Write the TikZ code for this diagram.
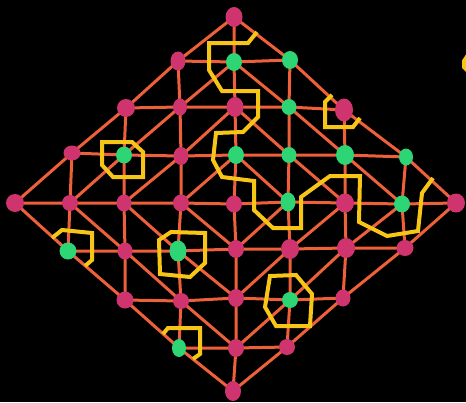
\documentclass[tikz,border=0pt]{standalone}
\usetikzlibrary{shapes.geometric}
\definecolor{edgeor}{RGB}{238,96,58}
\definecolor{mag}{RGB}{207,52,110}
\definecolor{grn}{RGB}{46,213,117}
\definecolor{yel}{RGB}{247,197,22}
\pgfdeclarelayer{bg}
\pgfsetlayers{bg,main}
\begin{document}
\begin{tikzpicture}[x=1pt,y=-1pt,
  vtx/.style={ellipse, inner sep=0pt, minimum width=16pt, minimum height=18pt},
  mg/.style={vtx, fill=mag},
  gn/.style={vtx, fill=grn},
  sz/.style 2 args={minimum width=#1pt, minimum height=#2pt},
  edgeln/.style={draw=edgeor, line width=3pt},
  cyc/.style={draw=yel, line width=4pt}]
\useasboundingbox (0,0) rectangle (466,402);
% nodes
\node[mg,sz={17}{20}] (n04) at (234,17) {};
\node[mg,sz={15}{19}] (n13) at (178,61) {};
\node[gn,sz={16}{18}] (n14) at (234,62) {};
\node[gn,sz={16}{18}] (n15) at (290,60) {};
\node[mg,sz={18}{18}] (n22) at (126,108) {};
\node[mg,sz={14}{17}] (n23) at (180,107) {};
\node[mg,sz={17}{20}] (n24) at (235,107) {};
\node[gn,sz={15}{16}] (n25) at (289,107) {};
\node[mg,sz={18}{23}] (n26) at (344,110) {};
\node[mg,sz={17}{15}] (n31) at (72,153) {};
\node[gn,sz={16}{17}] (n32) at (124,155) {};
\node[mg,sz={15}{18}] (n33) at (181,156) {};
\node[gn,sz={16}{18}] (n34) at (236,155) {};
\node[gn,sz={15}{16}] (n35) at (289,155) {};
\node[gn,sz={18}{20}] (n36) at (345,155) {};
\node[gn,sz={14}{17}] (n37) at (406,157) {};
\node[mg,sz={18}{18}] (n40) at (15,203) {};
\node[mg,sz={16}{16}] (n41) at (70,203) {};
\node[mg,sz={15}{17}] (n42) at (124,203) {};
\node[mg,sz={16}{17}] (n43) at (181,203) {};
\node[mg,sz={16}{17}] (n44) at (234,204) {};
\node[gn,sz={15}{19}] (n45) at (288,202) {};
\node[mg,sz={18}{19}] (n46) at (345,203) {};
\node[gn,sz={16}{17}] (n47) at (402,204) {};
\node[mg,sz={18}{19}] (n48) at (456,203) {};
\node[gn,sz={17}{17}] (n51) at (68,251) {};
\node[mg,sz={15}{17}] (n52) at (125,251) {};
\node[gn,sz={17}{21}] (n53) at (178,251) {};
\node[mg,sz={16}{18}] (n54) at (236,249) {};
\node[mg,sz={18}{20}] (n55) at (290,249) {};
\node[mg,sz={18}{20}] (n56) at (346,248) {};
\node[mg,sz={17}{16}] (n57) at (405,248) {};
\node[mg,sz={17}{17}] (n62) at (125,300) {};
\node[mg,sz={16}{16}] (n63) at (181,301) {};
\node[mg,sz={16}{18}] (n64) at (236,298) {};
\node[gn,sz={16}{16}] (n65) at (290,300) {};
\node[mg,sz={15}{17}] (n66) at (343,298) {};
\node[gn,sz={14}{18}] (n73) at (179,348) {};
\node[mg,sz={16}{18}] (n74) at (236,348) {};
\node[mg,sz={16}{16}] (n75) at (287,347) {};
\node[mg,sz={16}{20}] (n84) at (233,391) {};
\begin{pgfonlayer}{bg}
\fill[black] (0,0) rectangle (466,402);
% rows
\draw[edgeln] (n13.center) -- (n14.center) -- (n15.center);
\draw[edgeln] (n22.center) -- (n23.center) -- (n24.center) -- (n25.center) -- (n26.center);
\draw[edgeln] (n31.center) -- (n32.center) -- (n33.center) -- (n34.center) -- (n35.center) -- (n36.center) -- (n37.center);
\draw[edgeln] (n40.center) -- (n41.center) -- (n42.center) -- (n43.center) -- (n44.center) -- (n45.center) -- (n46.center) -- (n47.center) -- (n48.center);
\draw[edgeln] (n51.center) -- (n52.center) -- (n53.center) -- (n54.center) -- (n55.center) -- (n56.center) -- (n57.center);
\draw[edgeln] (n62.center) -- (n63.center) -- (n64.center) -- (n65.center) -- (n66.center);
\draw[edgeln] (n73.center) -- (n74.center) -- (n75.center);
% columns
\draw[edgeln] (n31.center) -- (n41.center) -- (n51.center);
\draw[edgeln] (n22.center) -- (n32.center) -- (n42.center) -- (n52.center) -- (n62.center);
\draw[edgeln] (n13.center) -- (n23.center) -- (n33.center) -- (n43.center) -- (n53.center) -- (n63.center) -- (n73.center);
\draw[edgeln] (n04.center) -- (n14.center) -- (n24.center) -- (n34.center) -- (n44.center) -- (n54.center) -- (n64.center) -- (n74.center) -- (n84.center);
\draw[edgeln] (n15.center) -- (n25.center) -- (n35.center) -- (n45.center) -- (n55.center) -- (n65.center) -- (n75.center);
\draw[edgeln] (n26.center) -- (n36.center) -- (n46.center) -- (n56.center) -- (n66.center);
\draw[edgeln] (n37.center) -- (n47.center) -- (n57.center);
% diamonds
\draw[edgeln] (n04.center) -- (n15.center) -- (n26.center) -- (n37.center) -- (n48.center) -- (n57.center) -- (n66.center) -- (n75.center) -- (n84.center) -- (n73.center) -- (n62.center) -- (n51.center) -- (n40.center) -- (n31.center) -- (n22.center) -- (n13.center) -- cycle;
\draw[edgeln] (n14.center) -- (n25.center) -- (n36.center) -- (n47.center) -- (n56.center) -- (n65.center) -- (n74.center) -- (n63.center) -- (n52.center) -- (n41.center) -- (n32.center) -- (n23.center) -- cycle;
\draw[edgeln] (n24.center) -- (n35.center) -- (n46.center) -- (n55.center) -- (n64.center) -- (n53.center) -- (n42.center) -- (n33.center) -- cycle;
\draw[edgeln] (n34.center) -- (n45.center) -- (n54.center) -- (n43.center) -- cycle;
% yellow cycles
\draw[cyc] (257,32) -- (248,43) -- (209,43) -- (209,70) -- (222,91) -- (258,91) -- (258,117) -- (243,132) -- (216,133) -- (213,160) -- (222,177) -- (254,181) -- (254,210) -- (273,228) -- (301,228) -- (301,197) -- (330,176) -- (360,176) -- (359,222) -- (387,236) -- (418,231) -- (422,193) -- (433,178);
\draw[cyc] (332,95) -- (325,102) -- (325,127) -- (353,127) -- (360,118);
\draw[cyc] (102,142) -- (132,142) -- (143,152) -- (143,177) -- (113,177) -- (102,165) -- cycle;
\draw[cyc] (52,238) -- (62,230) -- (92,233) -- (92,260) -- (85,266);
\draw[cyc] (159,240) -- (171,232) -- (205,233) -- (205,263) -- (190,277) -- (160,274) -- cycle;
\draw[cyc] (270,276) -- (296,275) -- (312,294) -- (310,326) -- (276,326) -- (265,307) -- cycle;
\draw[cyc] (163,334) -- (168,328) -- (200,328) -- (200,354) -- (193,359);
\draw[cyc] (468,55) -- (464,61) -- (464,67) -- (468,71);
\end{pgfonlayer}
\end{tikzpicture}
\end{document}
